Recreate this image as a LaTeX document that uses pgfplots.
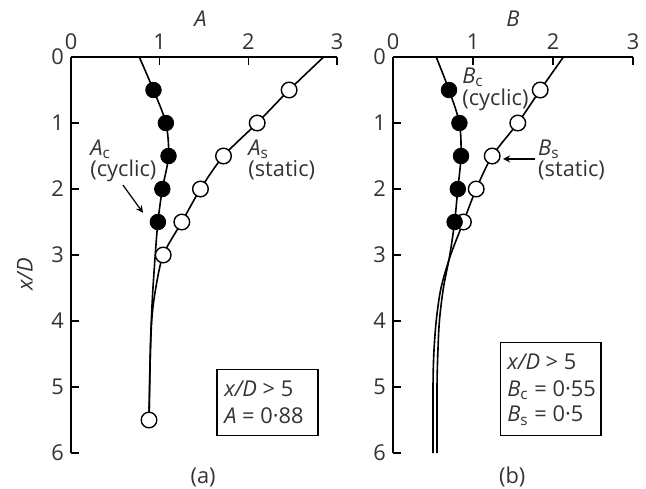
\documentclass[border=0pt]{standalone}
\usepackage{fontspec}
\setmainfont{Open Sans}
\usepackage{pgfplots}
\pgfplotsset{compat=1.18}
\definecolor{txt}{gray}{0.2}
\newcommand{\fs}{\fontsize{10.9}{13}\selectfont}
\pgfplotsset{
  panel/.style={
    scale only axis, height=198pt,
    y dir=reverse, ymin=0, ymax=6, xmin=0, xmax=3,
    axis x line=top, axis y line=left,
    axis line style={-, line width=0.8pt, black},
    xtick={0,1,2,3}, ytick={0,1,2,3,4,5,6},
    tick align=inside, major tick length=4pt,
    tick style={line width=0.7pt, black},
    tick label style={font=\fs, text=txt},
    /pgf/number format/assume math mode=true,
    clip=false,
  },
  curve/.style={black, line width=0.8pt, smooth, no markers},
  filled/.style={only marks, mark=*, mark size=3.9pt, mark options={fill=black, draw=black}},
  open/.style={only marks, mark=*, mark size=3.9pt, mark options={fill=white, draw=black, line width=0.7pt}},
}
\begin{document}
\begin{tikzpicture}
\path[use as bounding box] (0,0) rectangle (323pt,-244pt);
% ---------------- (a)
\begin{axis}[panel, width=133pt, at={(35.5pt,-28.5pt)}, anchor=north west,
  xlabel={\fs\itshape A}, xlabel style={at={(axis cs:1.46,-0.58)}, anchor=center, text=txt},
  ylabel={\fs\itshape x/D}, ylabel style={at={(axis cs:-0.52,3.29)}, anchor=center, text=txt}]
\addplot[curve] coordinates {(0.77,0) (0.93,0.5) (1.07,1) (1.10,1.5) (1.03,2) (0.98,2.5) (0.95,3.0) (0.92,3.6) (0.90,4.2) (0.89,4.8) (0.88,5.5)};
\addplot[curve] coordinates {(2.85,0) (2.46,0.5) (2.10,1) (1.72,1.5) (1.46,2) (1.25,2.5) (1.04,3) (0.95,3.55) (0.91,4) (0.89,4.7) (0.88,5.5)};
\addplot[filled] coordinates {(0.93,0.5) (1.07,1) (1.10,1.5) (1.03,2) (0.98,2.5)};
\addplot[open] coordinates {(2.46,0.5) (2.10,1) (1.72,1.5) (1.46,2) (1.25,2.5) (1.04,3) (0.88,5.5)};
\node[anchor=base west, inner sep=0, text=txt] at (axis cs:0.214,1.485) {\fs\itshape A\/\upshape\textsubscript{c}};
\node[anchor=base west, inner sep=0, text=txt] at (axis cs:0.214,1.818) {\fs (cyclic)};
\node[anchor=base west, inner sep=0, text=txt] at (axis cs:1.996,1.485) {\fs\itshape A\/\upshape\textsubscript{s}};
\node[anchor=base west, inner sep=0, text=txt] at (axis cs:1.996,1.818) {\fs (static)};
\draw[-stealth, line width=0.6pt] (axis cs:0.586,1.94) -- (axis cs:0.812,2.36);
\draw[line width=0.6pt] (axis cs:1.646,4.73) rectangle (axis cs:2.786,5.74);
\node[anchor=base west, inner sep=0, text=txt] at (axis cs:1.725,5.14) {\fs\itshape x/D\upshape{} > 5};
\node[anchor=base west, inner sep=0, text=txt] at (axis cs:1.725,5.55) {\fs\itshape A\upshape{} = 0·88};
\node[text=txt] at (axis cs:1.49,6.37) {\fs (a)};
\end{axis}
% ---------------- (b)
\begin{axis}[panel, width=120pt, at={(196.5pt,-28.5pt)}, anchor=north west,
  xlabel={\fs\itshape B}, xlabel style={at={(axis cs:1.5,-0.58)}, anchor=center, text=txt}]
\addplot[curve] coordinates {(0.54,0) (0.70,0.5) (0.83,1) (0.85,1.5) (0.81,2) (0.77,2.5) (0.71,3) (0.63,3.5) (0.58,4) (0.56,4.5) (0.55,5) (0.55,6)};
\addplot[curve] coordinates {(2.13,0) (1.84,0.5) (1.56,1) (1.24,1.5) (1.04,2) (0.88,2.5) (0.72,3) (0.60,3.5) (0.54,4) (0.51,4.5) (0.50,5) (0.50,6)};
\addplot[open] coordinates {(1.84,0.5) (1.56,1) (1.24,1.5) (1.04,2) (0.88,2.5)};
\addplot[filled] coordinates {(0.70,0.5) (0.83,1) (0.85,1.5) (0.81,2) (0.77,2.5)};
\node[anchor=base west, inner sep=0, text=txt] at (axis cs:0.8625,0.394) {\fs\itshape B\/\upshape\textsubscript{c}};
\node[anchor=base west, inner sep=0, text=txt] at (axis cs:0.8625,0.742) {\fs (cyclic)};
\node[anchor=base west, inner sep=0, text=txt] at (axis cs:1.81,1.485) {\fs\itshape B\/\upshape\textsubscript{s}};
\node[anchor=base west, inner sep=0, text=txt] at (axis cs:1.81,1.818) {\fs (static)};
\draw[-stealth, line width=0.6pt] (axis cs:1.775,1.545) -- (axis cs:1.375,1.545);
\draw[line width=0.6pt] (axis cs:1.34,4.33) rectangle (axis cs:2.6,5.74);
\node[anchor=base west, inner sep=0, text=txt] at (axis cs:1.425,4.73) {\fs\itshape x/D\upshape{} > 5};
\node[anchor=base west, inner sep=0, text=txt] at (axis cs:1.425,5.14) {\fs\itshape B\/\upshape\textsubscript{c} = 0·55};
\node[anchor=base west, inner sep=0, text=txt] at (axis cs:1.425,5.53) {\fs\itshape B\/\upshape\textsubscript{s} = 0·5};
\node[text=txt] at (axis cs:1.49,6.37) {\fs (b)};
\end{axis}
\end{tikzpicture}
\end{document}
